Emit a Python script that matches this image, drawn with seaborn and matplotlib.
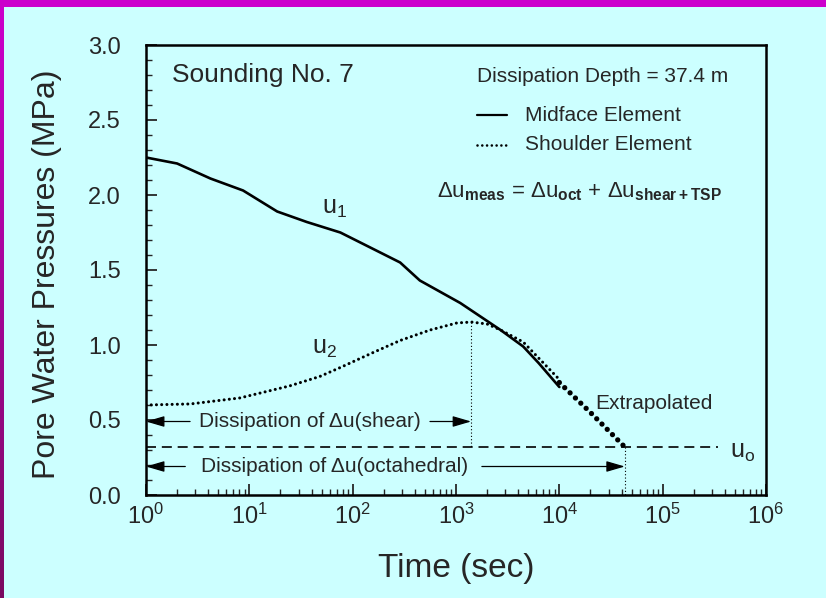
import numpy as np
import pandas as pd
import matplotlib
matplotlib.use("Agg")
import matplotlib.pyplot as plt
import seaborn as sns
from matplotlib.colors import LinearSegmentedColormap

# ---- data ----
t_u1 = [1, 2, 4.2, 8.7, 18.6, 36, 76, 148, 288, 447, 1100, 2700, 4470, 6300, 10000]
u1 = [2.25, 2.21, 2.11, 2.03, 1.89, 1.82, 1.75, 1.65, 1.55, 1.43, 1.28, 1.10, 0.99, 0.88, 0.72]
t_u2 = [1, 2.7, 8.1, 24.5, 48, 76, 158, 288, 562, 1020, 1410, 2000, 2700, 4470, 10000]
u2 = [0.60, 0.607, 0.647, 0.727, 0.79, 0.85, 0.95, 1.03, 1.10, 1.147, 1.153, 1.14, 1.10, 1.02, 0.77]
t_ext = [10000, 20000, 43000]
u_ext = [0.75, 0.55, 0.32]
u0 = 0.32
t_u0_end = 3.4e5
t_shear = 1400
u_shear_peak = 1.153
t_oct = 43000
y_arrow_shear = 0.49
y_arrow_oct = 0.19
x_ticks = [1, 10, 100, 1e3, 1e4, 1e5, 1e6]
y_ticks = [0.0, 0.5, 1.0, 1.5, 2.0, 2.5, 3.0]

BG = "#CCFFFF"
MAG = "#CC00CC"

sns.set_style("ticks")
plt.rcParams["font.family"] = ["Liberation Sans", "DejaVu Sans"]
plt.rcParams["mathtext.fontset"] = "custom"
plt.rcParams["mathtext.rm"] = "Liberation Sans"
plt.rcParams["mathtext.it"] = "Liberation Sans"
plt.rcParams["mathtext.bf"] = "Liberation Sans:bold"

fig = plt.figure(figsize=(8.26, 5.98), dpi=100, facecolor=BG)
W, H = 826, 598
ax = fig.add_axes([146 / W, 1 - 495 / H, 620 / W, 450 / H])
ax.set_facecolor(BG)

# border bands
top = fig.add_axes([0, 1 - 7 / H, 1, 7 / H])
top.set_facecolor(MAG)
top.set_xticks([]); top.set_yticks([])
for s in top.spines.values():
    s.set_visible(False)
left = fig.add_axes([0, 0, 4 / W, 1])
grad = np.linspace(0, 1, 256).reshape(-1, 1)
cm = LinearSegmentedColormap.from_list("b", ["#7A0A60", MAG])
left.imshow(grad, aspect="auto", cmap=cm, origin="lower")
left.set_axis_off()

df1 = pd.DataFrame({"t": t_u1, "u": u1})
df2 = pd.DataFrame({"t": t_u2, "u": u2})
dfe = pd.DataFrame({"t": t_ext, "u": u_ext})

sns.lineplot(data=df1, x="t", y="u", ax=ax, color="black", lw=1.9, estimator=None, sort=False)
l2 = sns.lineplot(data=df2, x="t", y="u", ax=ax, color="black", lw=2.2, estimator=None, sort=False).lines[-1]
l2.set_dashes((0.01, 1.7)); l2.set_dash_capstyle("round")
le = sns.lineplot(data=dfe, x="t", y="u", ax=ax, color="black", lw=3.8, estimator=None, sort=False).lines[-1]
le.set_dashes((0.01, 1.4)); le.set_dash_capstyle("round")

# u0 dashed line
ax.plot([1, t_u0_end], [u0, u0], color="black", lw=1.2, dashes=(6, 3.5))
# vertical dotted guides
ax.plot([t_shear, t_shear], [u_shear_peak, u0], color="black", lw=0.8, dashes=(1, 2))
ax.plot([t_oct, t_oct], [u0, 0], color="black", lw=0.8, dashes=(1, 2))

ap = dict(arrowstyle="-|>,head_length=0.75,head_width=0.22", lw=0.9, color="black",
          shrinkA=0, shrinkB=0, mutation_scale=15)
ax.annotate("", xy=(1, y_arrow_shear), xytext=(2.67, y_arrow_shear), arrowprops=ap)
ax.annotate("", xy=(t_shear, y_arrow_shear), xytext=(560, y_arrow_shear), arrowprops=ap)
ax.annotate("", xy=(1, y_arrow_oct), xytext=(2.4, y_arrow_oct), arrowprops=ap)
ax.annotate("", xy=(t_oct, y_arrow_oct), xytext=(1780, y_arrow_oct), arrowprops=ap)
ax.text(38.6, y_arrow_shear, "Dissipation of \u0394u(shear)", fontsize=15, ha="center", va="center")
ax.text(67, y_arrow_oct, "Dissipation of \u0394u(octahedral)", fontsize=15, ha="center", va="center")

ax.set_xscale("log")
ax.set_xlim(1, 1e6)
ax.set_ylim(0, 3.0)
ax.set_xticks(x_ticks)
ax.set_yticks(y_ticks)
ax.set_yticklabels([f"{v:.1f}" for v in y_ticks])
ax.yaxis.set_minor_locator(matplotlib.ticker.MultipleLocator(0.1))
ax.xaxis.set_minor_locator(matplotlib.ticker.LogLocator(base=10, subs=np.arange(2, 10), numticks=20))
ax.xaxis.set_minor_formatter(matplotlib.ticker.NullFormatter())
ax.tick_params(axis="both", which="major", direction="in", length=8, width=1.3, labelsize=17)
ax.tick_params(axis="both", which="minor", direction="in", length=4, width=1.0)
ax.tick_params(axis="y", which="both", pad=18)
ax.tick_params(axis="x", which="both", pad=6)
for s in ax.spines.values():
    s.set_linewidth(1.8)
    s.set_color("black")
    s.set_visible(True)

ax.set_xlabel("Time (sec)", fontsize=24)
ax.set_ylabel("Pore Water Pressures (MPa)", fontsize=23)
ax.xaxis.set_label_coords(0.5, -0.128)
ax.yaxis.set_label_coords(-0.135, 0.491)

tr = ax.transAxes
ax.text(0.042, 0.933, "Sounding No. 7", transform=tr, fontsize=19, ha="left", va="center")
ax.text(0.534, 0.929, "Dissipation Depth = 37.4 m", transform=tr, fontsize=15, ha="left", va="center")
ax.plot([0.534, 0.582], [0.844, 0.844], transform=tr, color="black", lw=1.6)
ax.text(0.611, 0.844, "Midface Element", transform=tr, fontsize=15, ha="left", va="center")
ls = ax.plot([0.534, 0.582], [0.778, 0.778], transform=tr, color="black", lw=1.9)[0]
ls.set_dashes((0.01, 1.8)); ls.set_dash_capstyle("round")
ax.text(0.611, 0.778, "Shoulder Element", transform=tr, fontsize=15, ha="left", va="center")
ax.text(0.469, 0.673, r"$\Delta \mathrm{u}_{\mathbf{meas}}$ = $\Delta \mathrm{u}_{\mathbf{oct}}$ + $\Delta \mathrm{u}_{\mathbf{shear+TSP}}$",
        transform=tr, fontsize=16, ha="left", va="center")
ax.text(0.724, 0.204, "Extrapolated", transform=tr, fontsize=15, ha="left", va="center")
ax.text(0.942, 0.096, r"u$_\mathrm{o}$", transform=tr, fontsize=18, ha="left", va="center")
ax.text(50, 1.91, r"u$_1$", fontsize=18, ha="left", va="center")
ax.text(40, 0.98, r"u$_2$", fontsize=18, ha="left", va="center")

fig.savefig("out.png", dpi=100, facecolor=BG)
